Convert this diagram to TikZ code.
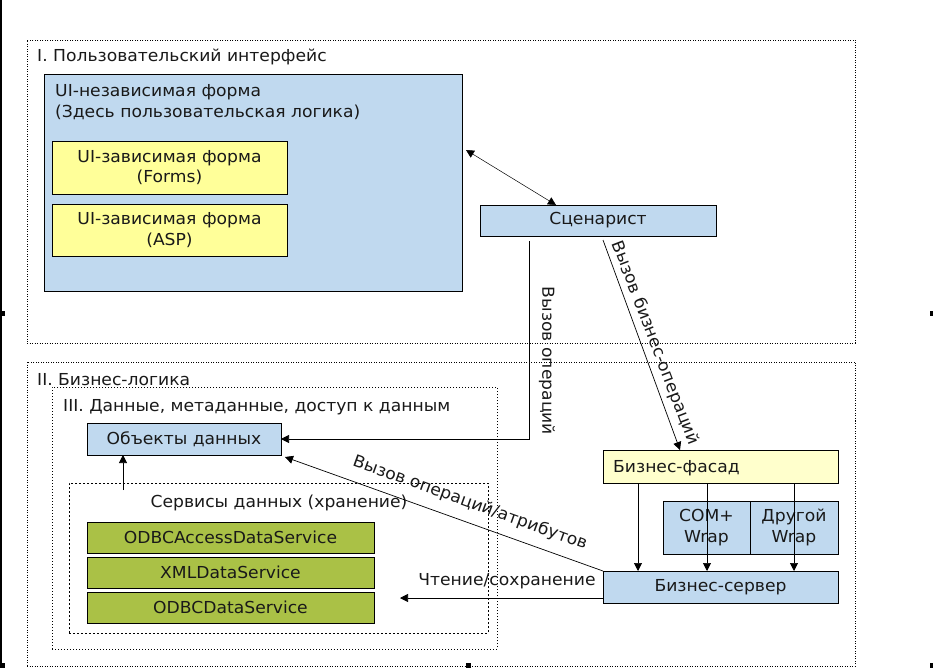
\documentclass[tikz,border=0pt]{standalone}
\usepackage{fontspec}
\setmainfont{DejaVu Sans}[FakeStretch=1.04]
\usetikzlibrary{arrows.meta,calc}
\definecolor{bluefill}{RGB}{192,217,239}
\definecolor{yelfill}{RGB}{255,255,153}
\definecolor{facfill}{RGB}{255,255,204}
\definecolor{grnfill}{RGB}{170,193,70}
\definecolor{txt}{RGB}{25,25,25}
\tikzset{
  box/.style={draw, line width=0.8pt, inner sep=0pt, outer sep=0pt, anchor=north west, align=center, text=txt},
  bluebox/.style={box, fill=bluefill},
  yelbox/.style={box, fill=yelfill},
  grnbox/.style={box, fill=grnfill},
  facbox/.style={box, fill=facfill},
  frame/.style={draw, line width=0.7pt, dash pattern=on 1pt off 1.5pt, inner sep=0pt, outer sep=0pt, anchor=north west},
  innerframe/.style={draw, line width=0.7pt, dash pattern=on 1pt off 2pt, inner sep=0pt, outer sep=0pt, anchor=north west},
  svcframe/.style={draw, line width=0.7pt, dash pattern=on 2pt off 2pt, inner sep=0pt, outer sep=0pt, anchor=north west},
  lbl/.style={inner sep=0pt, anchor=base west, text=txt},
  conn/.style={line width=0.7pt, -{Triangle[length=8pt,width=8pt]}},
  dconn/.style={line width=0.5pt, {Triangle[length=8pt,width=8pt]}-{Triangle[length=8pt,width=8pt]}},
  handle/.style={fill=black, draw=none}
}
\begin{document}
\begin{tikzpicture}[x=1pt, y=-1pt, font=\fontsize{16.5}{20.5}\selectfont]
\useasboundingbox (0,0) rectangle (933,668);
% frames
\node[frame, minimum width=828pt, minimum height=303pt] (frI) at (27,40) {};
\node[frame, minimum width=828pt, minimum height=304pt] (frII) at (27,362) {};
\node[innerframe, minimum width=445pt, minimum height=262pt] (frIII) at (52,387) {};
\node[svcframe, minimum width=419pt, minimum height=150pt] (svc) at (69,483) {};
% labels
\node[lbl] (lI) at (37,62) {I. Пользовательский интерфейс};
\node[lbl] (lII) at (37,385) {II. Бизнес-логика};
\node[lbl] (lIII) at (63,411) {III. Данные, метаданные, доступ к данным};
\node[inner sep=0pt, anchor=base, text=txt] (lsvc) at (279,507) {Сервисы данных (хранение)};
% UI boxes
\node[bluebox, minimum width=418pt, minimum height=217pt] (ui) at (44,74) {};
\node[lbl] (ui1) at (55,97) {UI-независимая форма};
\node[lbl] (ui2) at (55,118) {(Здесь пользовательская логика)};
\node[yelbox, minimum width=235pt, minimum height=53pt] (forms) at (52,141) {UI-зависимая форма\\(Forms)};
\node[yelbox, minimum width=235pt, minimum height=52pt] (asp) at (52,204) {UI-зависимая форма\\(ASP)};
\node[bluebox, minimum width=236pt, minimum height=31pt] (scen) at (480,205) {Сценарист};
% data
\node[bluebox, minimum width=194pt, minimum height=32pt] (obj) at (87,423) {Объекты данных};
\node[grnbox, minimum width=287pt, minimum height=31pt] (g1) at (87,522) {ODBCAccessDataService};
\node[grnbox, minimum width=287pt, minimum height=31pt] (g2) at (87,557) {XMLDataService};
\node[grnbox, minimum width=287pt, minimum height=31pt] (g3) at (87,592) {ODBCDataService};
% business
\node[facbox, minimum width=235pt, minimum height=33pt] (fac) at (603,450) {};
\node[lbl] (facl) at (613,472) {Бизнес-фасад};
\node[bluebox, minimum width=87pt, minimum height=53pt] (com) at (663,501) {COM+\\Wrap};
\node[bluebox, minimum width=88pt, minimum height=53pt] (oth) at (750,501) {Другой\\Wrap};
\node[bluebox, minimum width=235pt, minimum height=32pt] (srv) at (603,571) {Бизнес-сервер};
% connectors
\draw[dconn] ($(ui.north east)+(4,76)$) -- ($(scen.north west)+(76,0)$);
\coordinate (c1) at (529,241);
\draw[conn] (c1) |- (obj.east);
\node[rotate=-90, inner sep=0pt, text=txt] (l1) at (547,361) {Вызов операций};
\draw[conn] ($(scen.south west)+(123,4)$) -- ($(fac.north west)+(77,0)$);
\node[rotate=-69, inner sep=0pt, text=txt] (l2) at (655,343) {Вызов бизнес-операций};
\draw[conn] ($(fac.south west)+(35,0)$) -- ($(srv.north west)+(35,0)$);
\draw[conn] ($(fac.south west)+(104,0)$) -- ($(srv.north west)+(104,0)$);
\draw[conn] ($(fac.south west)+(191,0)$) -- ($(srv.north west)+(191,0)$);
\draw[conn] (srv.north west) -- ($(obj.south east)+(4,2)$);
\node[rotate=-19.8, inner sep=0pt, text=txt] (l3) at (470,503) {Вызов операций/атрибутов};
\coordinate (rs) at (400,598);
\draw[conn] (srv.west |- rs) -- (rs);
\node[inner sep=0pt, anchor=base, text=txt] (l4) at (507,585) {Чтение/сохранение};
\coordinate (su) at (123,490);
\draw[conn] (su) -- (su |- obj.south);
% selection marks
\fill[handle] (0,0) rectangle (1.8,668);
\fill[handle] (0,311) rectangle (5,316);
\fill[handle] (930,311) rectangle (933,316);
\fill[handle] (0,663) rectangle (5,668);
\fill[handle] (466,663) rectangle (471,668);
\fill[handle] (930,663) rectangle (933,668);
\end{tikzpicture}
\end{document}
